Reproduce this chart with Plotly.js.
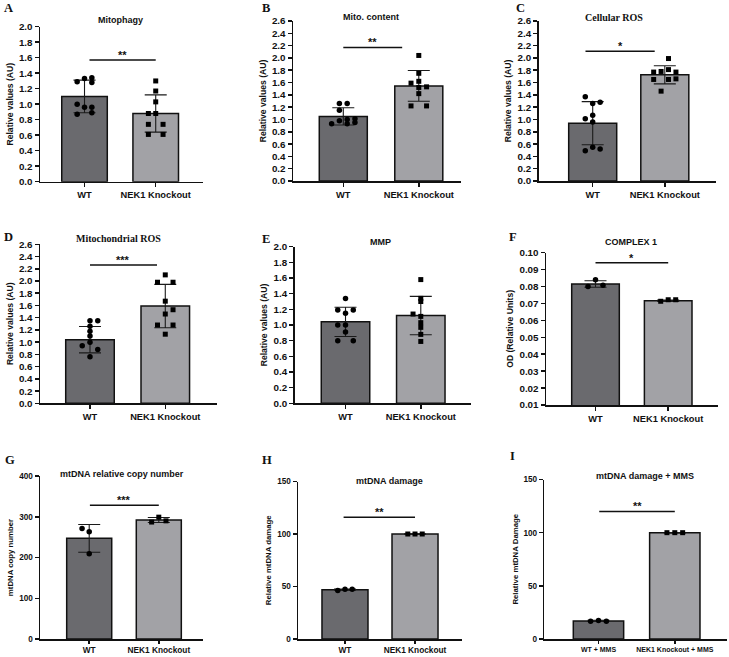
<!DOCTYPE html>
<html>
<head>
<meta charset="utf-8">
<script src="https://cdn.plot.ly/plotly-3.0.1.min.js"></script>
<style>
  html, body { margin: 0; padding: 0; background: #fff; }
  #chart { width: 729px; height: 657px; }
</style>
</head>
<body>
<div id="chart"></div>
<script>
// group labels
const groups = ["WT", "NEK1 Knockout"];
const groupsMMS = ["WT + MMS", "NEK1 Knockout + MMS"];

// A - Mitophagy
const mitophagyMean = [1.10, 0.88];
const mitophagySD = [0.21, 0.24];
const mitophagyWT = [1.29, 1.33, 1.34, 1.28, 1.00, 0.96, 0.96, 0.87, 0.89];
const mitophagyWTcol = [-1, 0, 1, 1, -1, 0, 1, -1, 1];
const mitophagyKO = [1.30, 1.17, 1.03, 0.88, 0.88, 0.74, 0.74, 0.61, 0.61];
const mitophagyKOcol = [0, 0, 0, -1, 0, -1, 1, -1, 1];

// B - Mito. content
const contentMean = [1.05, 1.545];
const contentSD = [0.14, 0.25];
const contentWT = [1.26, 1.26, 1.15, 0.98, 1.00, 1.01, 0.93, 0.93, 0.95];
const contentWTcol = [-0.5, 0.5, -0.5, -0.5, 0.5, 1.5, -1.5, 0.5, 1.5];
const contentKO = [2.04, 1.75, 1.62, 1.59, 1.52, 1.53, 1.42, 1.22, 1.22];
const contentKOcol = [0, 0, 0, -1, 0, 1, 0, -1, 1];

// C - Cellular ROS
const cellRosMean = [0.94, 1.725];
const cellRosSD = [0.35, 0.147];
const cellRosWT = [1.37, 1.26, 1.28, 1.07, 1.01, 0.96, 0.49, 0.55, 0.52];
const cellRosWTcol = [-1, 0, 1, 0, -1, 0, -1, 0, 1];
const cellRosKO = [1.99, 1.77, 1.78, 1.81, 1.77, 1.65, 1.65, 1.66, 1.46];
const cellRosKOcol = [0.5, -1.5, -0.5, 0.5, 1.5, -1.5, 0.5, 1.5, -0.5];

// D - Mitochondrial ROS
const mitoRosMean = [1.04, 1.59];
const mitoRosSD = [0.215, 0.355];
const mitoRosWT = [1.35, 1.35, 1.26, 1.18, 1.10, 1.00, 0.94, 0.88, 0.76];
const mitoRosWTcol = [0, 1, 0, 0, 0, 0, -1, 1, 0];
const mitoRosKO = [2.10, 1.98, 1.98, 1.67, 1.53, 1.46, 1.28, 1.28, 1.13];
const mitoRosKOcol = [0, -1, 1, 0, 1, 0, -1, 1, 0];

// E - MMP
const mmpMean = [1.04, 1.12];
const mmpSD = [0.187, 0.245];
const mmpWT = [1.34, 1.19, 1.19, 1.15, 1.00, 1.00, 0.91, 0.80, 0.80];
const mmpWTcol = [0, -1, 1, 0, -1, 0, 0, -1, 1];
const mmpKO = [1.58, 1.34, 1.30, 1.14, 1.11, 1.03, 0.97, 0.88, 0.79];
const mmpKOcol = [0, 0, 0, -1, 0, 0, 0, 0, 0];

// F - Complex 1
const complexMean = [0.0815, 0.0716];
const complexSD = [0.0019, 0.0004];
const complexWT = [0.0840, 0.0800, 0.0807];
const complexWTcol = [0, -1, 1];
const complexKO = [0.0713, 0.0722, 0.0722];
const complexKOcol = [-1, 0, 1];

// G - mtDNA copy number
const copyMean = [247, 292];
const copySD = [34, 6];
const copyWT = [271, 263, 209];
const copyWTcol = [-1, 0, 0];
const copyKO = [287, 299, 290];
const copyKOcol = [-1, 0, 1];

// H - mtDNA damage
const damageMean = [47, 100];
const damageSD = [0.6, 0.2];
const damageWT = [46.3, 47.3, 47.3];
const damageKO = [100, 100, 100];

// I - mtDNA damage + MMS
const mmsMean = [17, 100];
const mmsSD = [0.6, 0.2];
const mmsWT = [16.6, 17.5, 16.6];
const mmsKO = [100, 100, 100];
const threeCol = [-1, 0, 1];

// significance brackets
const sigLabel = ["**", "**", "*", "***", "", "*", "***", "**", "**"];
const sigHeight = [1.57, 2.17, 2.11, 2.26, null, 0.0941, 328, 116, 120];
const sigFrom = [0.07, 0, -0.1, 0, null, 0, 0.01, -0.02, 0.01];
const sigTo = [1.0, 0.78, 0.86, 0.89, null, 1, 1, 1, 1];

const W = 729, H = 657;
const sans = "Liberation Sans, Arial, sans-serif";
const serif = "Liberation Serif, Times New Roman, serif";
const wtColor = "#6a6a6e";
const koColor = "#a2a2a6";

// box = [left, right, top, bottom] in px
const panels = [
  { letter: "A", lpos: [2, 8], title: "Mitophagy", tpos: [120, 20], tfont: sans, yTitle: "Relative values (AU)",
    mean: mitophagyMean, sd: mitophagySD, wt: mitophagyWT, wtCol: mitophagyWTcol, ko: mitophagyKO, koCol: mitophagyKOcol,
    box: [40, 203, 26.7, 181.7], xr: [-0.625, 1.664], yr: [0, 2], t0: 0, dt: 0.2, fmt: ".1f", bw: 0.64, labels: groups },
  { letter: "B", lpos: [260, 8], title: "Mito. content", tpos: [371, 17], tfont: sans, yTitle: "Relative values (AU)",
    mean: contentMean, sd: contentSD, wt: contentWT, wtCol: contentWTcol, ko: contentKO, koCol: contentKOcol,
    box: [293, 461, 21, 181], xr: [-0.666, 1.559], yr: [0, 2.6], t0: 0, dt: 0.2, fmt: ".1f", bw: 0.636, labels: groups },
  { letter: "C", lpos: [514, 8], title: "Cellular ROS", tpos: [614, 17], tfont: serif, yTitle: "Relative values (AU)",
    mean: cellRosMean, sd: cellRosSD, wt: cellRosWT, wtCol: cellRosWTcol, ko: cellRosKO, koCol: cellRosKOcol,
    box: [538.7, 716, 21, 181], xr: [-0.749, 1.71], yr: [0, 2.6], t0: 0, dt: 0.2, fmt: ".1f", bw: 0.666, labels: groups },
  { letter: "D", lpos: [2, 236.5], title: "Mitochondrial ROS", tpos: [118, 238], tfont: serif, yTitle: "Relative values (AU)",
    mean: mitoRosMean, sd: mitoRosSD, wt: mitoRosWT, wtCol: mitoRosWTcol, ko: mitoRosKO, koCol: mitoRosKOcol,
    box: [40, 216.7, 244.3, 403.3], xr: [-0.664, 1.683], yr: [0, 2.6], t0: 0, dt: 0.2, fmt: ".1f", bw: 0.645, labels: groups },
  { letter: "E", lpos: [260, 239], title: "MMP", tpos: [380, 241.5], tfont: sans, yTitle: "Relative values (AU)",
    mean: mmpMean, sd: mmpSD, wt: mmpWT, wtCol: mmpWTcol, ko: mmpKO, koCol: mmpKOcol,
    box: [294.7, 471, 246.7, 403.3], xr: [-0.675, 1.667], yr: [0, 2], t0: 0, dt: 0.2, fmt: ".1f", bw: 0.644, labels: groups },
  { letter: "F", lpos: [507, 237], title: "COMPLEX 1", tpos: [631, 242], tfont: sans, yTitle: "OD (Relative Units)",
    mean: complexMean, sd: complexSD, wt: complexWT, wtCol: complexWTcol, ko: complexKO, koCol: complexKOcol,
    box: [546, 717.7, 252.7, 405], xr: [-0.681, 1.681], yr: [0.01, 0.10], t0: 0.01, dt: 0.01, fmt: ".2f", bw: 0.655, labels: groups },
  { letter: "G", lpos: [3, 459.5], title: "mtDNA relative copy number", tpos: [122, 474], tfont: sans, yTitle: "mtDNA copy number",
    mean: copyMean, sd: copySD, wt: copyWT, wtCol: copyWTcol, ko: copyKO, koCol: copyKOcol,
    box: [40, 203, 476, 639], xr: [-0.707, 1.635], yr: [0, 400], t0: 0, dt: 100, fmt: "d", bw: 0.647, labels: groups, small: true },
  { letter: "H", lpos: [260, 460], title: "mtDNA damage", tpos: [389, 480.5], tfont: sans, yTitle: "Relative mtDNA damage",
    mean: damageMean, sd: damageSD, wt: damageWT, wtCol: threeCol, ko: damageKO, koCol: threeCol,
    box: [298, 462, 481.5, 639], xr: [-0.671, 1.671], yr: [0, 150], t0: 0, dt: 50, fmt: "d", bw: 0.657, labels: groups, small: true },
  { letter: "I", lpos: [508, 455.5], title: "mtDNA damage + MMS", tpos: [645, 475.5], tfont: sans, yTitle: "Relative mtDNA Damage",
    mean: mmsMean, sd: mmsSD, wt: mmsWT, wtCol: threeCol, ko: mmsKO, koCol: threeCol,
    box: [544.3, 726.7, 479.5, 639], xr: [-0.71, 1.68], yr: [0, 150], t0: 0, dt: 50, fmt: "d", bw: 0.66, labels: groupsMMS, small: true, tiny: true },
];

const colStep = 0.103;
const traces = [];
const annotations = [];
const layout = {
  width: W, height: H,
  margin: { l: 0, r: 0, t: 0, b: 0 },
  paper_bgcolor: "#fff", plot_bgcolor: "#fff",
  showlegend: false,
  annotations: annotations,
};

panels.forEach((p, i) => {
  const n = i + 1;
  const xa = n === 1 ? "x" : "x" + n;
  const ya = n === 1 ? "y" : "y" + n;
  const axisStyle = {
    showline: true, linecolor: "#111", linewidth: 1.5,
    ticks: "outside", ticklen: 4, tickwidth: 1.5, tickcolor: "#111",
    showgrid: false, zeroline: false, fixedrange: true,
  };

  layout["xaxis" + (n === 1 ? "" : n)] = Object.assign({}, axisStyle, {
    domain: [p.box[0] / W, p.box[1] / W],
    range: p.xr,
    tickvals: [0, 1],
    ticktext: p.labels,
    ticklen: p.small ? 3 : 4,
    tickfont: { family: sans, size: p.tiny ? 7 : (p.small ? 8.3 : 9.3), weight: "bold", color: "#111" },
    anchor: ya,
  });
  layout["yaxis" + (n === 1 ? "" : n)] = Object.assign({}, axisStyle, {
    domain: [1 - p.box[3] / H, 1 - p.box[2] / H],
    range: p.yr,
    tick0: p.t0, dtick: p.dt, tickformat: p.fmt,
    tickfont: { family: sans, size: p.small ? 8.2 : 9.8, weight: "bold", color: "#111" },
    title: { text: p.yTitle, font: { family: sans, size: p.small ? 7.8 : 8.6, weight: "bold", color: "#111" }, standoff: 4 },
    anchor: xa,
  });

  traces.push({
    type: "bar", x: [0, 1], y: p.mean, width: p.bw,
    marker: { color: [wtColor, koColor], line: { color: "#111", width: 1.5 } },
    error_y: { type: "data", array: p.sd, visible: true, color: "#1a1a1a", thickness: 1.1, width: 11 },
    xaxis: xa, yaxis: ya, hoverinfo: "skip",
  });
  traces.push({
    type: "scatter", mode: "markers",
    x: p.wtCol.map(c => c * colStep), y: p.wt,
    marker: { symbol: "circle", size: 5.5, color: "#000" },
    xaxis: xa, yaxis: ya, hoverinfo: "skip", cliponaxis: false,
  });
  traces.push({
    type: "scatter", mode: "markers",
    x: p.koCol.map(c => 1 + c * colStep), y: p.ko,
    marker: { symbol: "square", size: 5, color: "#000" },
    xaxis: xa, yaxis: ya, hoverinfo: "skip", cliponaxis: false,
  });

  if (sigHeight[i] !== null) {
    traces.push({
      type: "scatter", mode: "lines",
      x: [sigFrom[i], sigTo[i]], y: [sigHeight[i], sigHeight[i]],
      line: { color: "#111", width: 1.5 },
      xaxis: xa, yaxis: ya, hoverinfo: "skip",
    });
    annotations.push({
      xref: xa, yref: ya, x: (sigFrom[i] + sigTo[i]) / 2, y: sigHeight[i],
      text: "<b>" + sigLabel[i] + "</b>", showarrow: false,
      yanchor: "middle", yshift: 5,
      font: { family: sans, size: 11, color: "#111" },
    });
  }

  // panel title
  annotations.push({
    xref: "paper", yref: "paper", x: p.tpos[0] / W, y: 1 - p.tpos[1] / H,
    xanchor: "center", yanchor: "middle", showarrow: false,
    text: p.title,
    font: { family: p.tfont, size: p.tfont === serif ? 10 : 9, weight: "bold", color: "#111" },
  });
  // panel letter
  annotations.push({
    xref: "paper", yref: "paper", x: p.lpos[0] / W, y: 1 - p.lpos[1] / H,
    xanchor: "left", yanchor: "middle", showarrow: false,
    text: p.letter,
    font: { family: serif, size: 12.5, weight: "bold", color: "#111" },
  });
});

Plotly.newPlot("chart", traces, layout, { displayModeBar: false, staticPlot: true });
</script>
</body>
</html>
